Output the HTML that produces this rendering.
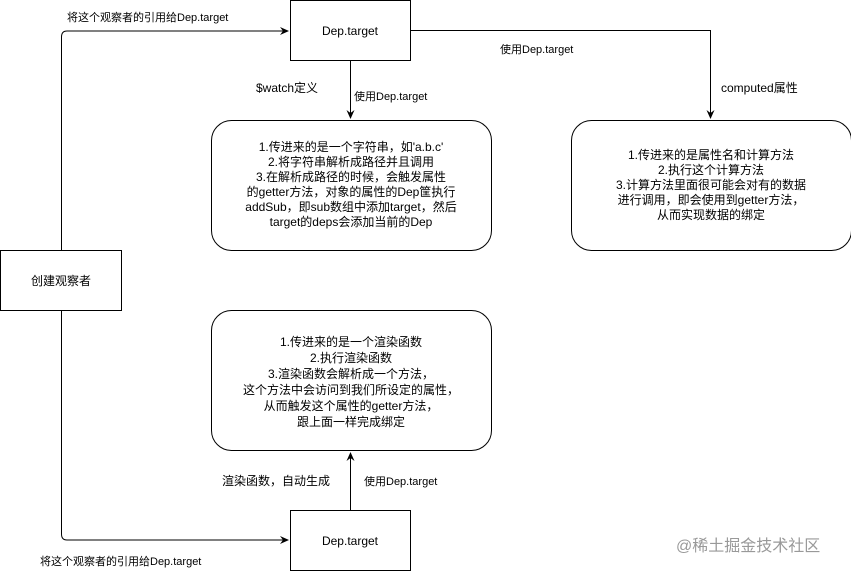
<!DOCTYPE html>
<html><head><meta charset="utf-8"><style>
body{margin:0;background:#fff;}
svg text{font-family:"Liberation Sans","Noto Sans CJK SC",sans-serif;font-size:12px;fill:#000;}
</style></head><body>
<svg width="851" height="571" xmlns="http://www.w3.org/2000/svg">
<defs><marker id="a" markerWidth="10" markerHeight="10" refX="8" refY="5" orient="auto" markerUnits="userSpaceOnUse"><path d="M0,1 L9,5 L0,9 L3,5 Z" fill="#000"/></marker></defs>
<g fill="none" stroke="#000" stroke-width="1">
<rect x="290.5" y="0.5" width="120" height="60" fill="#fff"/>
<rect x="0.5" y="250.5" width="121" height="60" fill="#fff"/>
<rect x="211.5" y="120.5" width="280" height="130" rx="20" fill="#fff"/>
<rect x="571.5" y="120.5" width="280" height="130" rx="20" fill="#fff"/>
<rect x="211.5" y="310.5" width="280" height="140" rx="20" fill="#fff"/>
<rect x="290.5" y="510.5" width="120" height="60" fill="#fff"/>
<path d="M61.5,250 V37 Q61.5,31 67,31 H288" marker-end="url(#a)"/>
<path d="M61.5,311 V534 Q61.5,540 67,540 H288" marker-end="url(#a)"/>
<path d="M350.5,61 V118" marker-end="url(#a)"/>
<path d="M350.5,510 V453" marker-end="url(#a)"/>
<path d="M411,30.5 H710.5 V118" marker-end="url(#a)"/>
</g>
<text x="350" y="35" text-anchor="middle" font-size="13">Dep.target</text>
<text x="350" y="545" text-anchor="middle" font-size="13">Dep.target</text>
<text x="61" y="285" text-anchor="middle" font-size="13">创建观察者</text>
<text x="67" y="21" style="font-size:11px">将这个观察者的引用给Dep.target</text>
<text x="40" y="565" style="font-size:11px">将这个观察者的引用给Dep.target</text>
<text x="500" y="53" style="font-size:11px">使用Dep.target</text>
<text x="721" y="92" font-size="12">computed属性</text>
<text x="256" y="92" font-size="12">$watch定义</text>
<text x="354" y="100" style="font-size:11px">使用Dep.target</text>
<text x="222" y="485" font-size="12">渲染函数，自动生成</text>
<text x="364" y="485" style="font-size:11px">使用Dep.target</text>
<g text-anchor="middle">
<text x="351" y="151">1.传进来的是一个字符串，如'a.b.c'</text>
<text x="351" y="166">2.将字符串解析成路径并且调用</text>
<text x="351" y="181">3.在解析成路径的时候，会触发属性</text>
<text x="351" y="196">的getter方法，对象的属性的Dep筐执行</text>
<text x="351" y="211">addSub，即sub数组中添加target，然后</text>
<text x="351" y="226">target的deps会添加当前的Dep</text>
<text x="711" y="159">1.传进来的是属性名和计算方法</text>
<text x="711" y="174">2.执行这个计算方法</text>
<text x="711" y="189">3.计算方法里面很可能会对有的数据</text>
<text x="711" y="204">进行调用，即会使用到getter方法，</text>
<text x="711" y="219">从而实现数据的绑定</text>
<text x="351" y="346">1.传进来的是一个渲染函数</text>
<text x="351" y="362">2.执行渲染函数</text>
<text x="351" y="378">3.渲染函数会解析成一个方法，</text>
<text x="351" y="394">这个方法中会访问到我们所设定的属性，</text>
<text x="351" y="410">从而触发这个属性的getter方法，</text>
<text x="351" y="426">跟上面一样完成绑定</text>
</g>
<text x="676" y="551" style="font-size:16px;fill:#999">@稀土掘金技术社区</text>
</svg>
</body></html>
